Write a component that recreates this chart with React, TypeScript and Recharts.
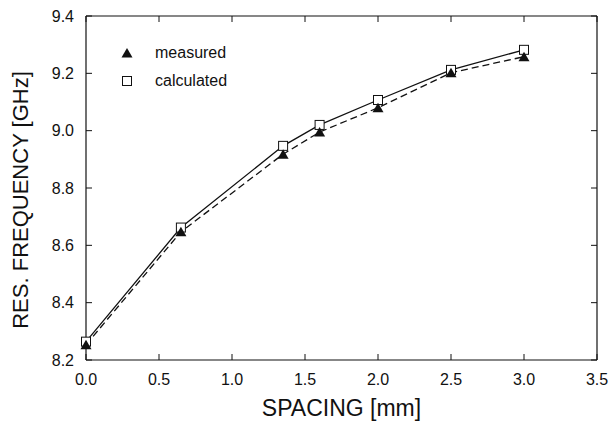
import React from "react";
import {
  ComposedChart,
  Line,
  XAxis,
  YAxis,
} from "recharts";

const spacing = [0, 0.65, 1.35, 1.6, 2.0, 2.5, 3.0];
const measured = [8.253, 8.647, 8.918, 8.995, 9.08, 9.202, 9.258];
const calculated = [8.264, 8.662, 8.947, 9.02, 9.107, 9.212, 9.282];

const xTicks = [0, 0.5, 1.0, 1.5, 2.0, 2.5, 3.0, 3.5];
const yTicks = [8.2, 8.4, 8.6, 8.8, 9.0, 9.2, 9.4];

const seriesNames = { measured: "measured", calculated: "calculated" };
const xTitle = "SPACING [mm]";
const yTitle = "RES. FREQUENCY [GHz]";

const FONT = "'Liberation Sans', Arial, Helvetica, sans-serif";
const INK = "#111";

const data = spacing.map((x, i) => ({
  x,
  measured: measured[i],
  calculated: calculated[i],
}));

// ticks point inwards on every side of the frame
const LeftTick = (p: any) => (
  <g>
    <line x1={p.x} x2={p.x + 6} y1={p.y} y2={p.y} stroke={INK} strokeWidth={1} />
    <text x={p.x - 12} y={p.y} dy="0.36em" textAnchor="end" fontSize={16} fontFamily={FONT} fill={INK}>
      {Number(p.payload.value).toFixed(1)}
    </text>
  </g>
);

const BottomTick = (p: any) => (
  <g>
    <line x1={p.x} x2={p.x} y1={p.y} y2={p.y - 6} stroke={INK} strokeWidth={1} />
    <text x={p.x} y={p.y + 25} textAnchor="middle" fontSize={16} fontFamily={FONT} fill={INK}>
      {Number(p.payload.value).toFixed(1)}
    </text>
  </g>
);

const TopTick = (p: any) => (
  <line x1={p.x} x2={p.x} y1={p.y} y2={p.y + 6} stroke={INK} strokeWidth={1} />
);

const RightTick = (p: any) => (
  <line x1={p.x} x2={p.x - 6} y1={p.y} y2={p.y} stroke={INK} strokeWidth={1} />
);

const Triangle = ({ cx, cy }: any) => (
  <path d={`M${cx},${cy - 5} L${cx + 5.5},${cy + 4.5} L${cx - 5.5},${cy + 4.5} Z`} fill={INK} />
);

const Square = ({ cx, cy }: any) => (
  <rect x={cx - 4.5} y={cy - 4.5} width={9} height={9} fill="#fff" stroke={INK} strokeWidth={1} />
);

const LegendBox = () => (
  <div
    style={{
      position: "absolute",
      left: 118,
      top: 39,
      fontFamily: FONT,
      fontSize: 16,
      color: INK,
      lineHeight: "28px",
    }}
  >
    <div style={{ display: "flex", alignItems: "center" }}>
      <svg width={37} height={12}>
        <path d="M9,1 L14.5,10.5 L3.5,10.5 Z" fill={INK} />
      </svg>
      <span>{seriesNames.measured}</span>
    </div>
    <div style={{ display: "flex", alignItems: "center" }}>
      <svg width={37} height={12}>
        <rect x={4.5} y={1.5} width={9} height={9} fill="#fff" stroke={INK} />
      </svg>
      <span>{seriesNames.calculated}</span>
    </div>
  </div>
);

export default function App() {
  return (
    <div
      style={{
        position: "fixed",
        left: 0,
        top: 0,
        width: 611,
        height: 425,
        overflow: "hidden",
        background: "#fff",
      }}
    >
      <ComposedChart
        width={611}
        height={425}
        data={data}
        margin={{ top: 15, right: 13, bottom: 0, left: 0 }}
      >
        <XAxis
          dataKey="x"
          type="number"
          domain={[0, 3.5]}
          ticks={xTicks}
          height={65}
          tickSize={0}
          tickMargin={0}
          tickLine={false}
          tick={<BottomTick />}
          axisLine={{ stroke: INK, strokeWidth: 1.2 }}
          interval={0}
        />
        <XAxis
          xAxisId="top"
          orientation="top"
          dataKey="x"
          type="number"
          domain={[0, 3.5]}
          ticks={xTicks}
          height={1}
          tickSize={0}
          tickMargin={0}
          tickLine={false}
          tick={<TopTick />}
          axisLine={{ stroke: INK, strokeWidth: 1.2 }}
          interval={0}
        />
        <YAxis
          type="number"
          domain={[8.2, 9.4]}
          ticks={yTicks}
          width={86}
          tickSize={0}
          tickMargin={0}
          tickLine={false}
          tick={<LeftTick />}
          axisLine={{ stroke: INK, strokeWidth: 1.2 }}
          interval={0}
        />
        <YAxis
          yAxisId="right"
          orientation="right"
          type="number"
          domain={[8.2, 9.4]}
          ticks={yTicks}
          width={1}
          tickSize={0}
          tickMargin={0}
          tickLine={false}
          tick={<RightTick />}
          axisLine={{ stroke: INK, strokeWidth: 1.2 }}
          interval={0}
        />
        {/* invisible series so the mirrored top/right frame axes get drawn */}
        <Line
          xAxisId="top"
          yAxisId="right"
          dataKey="calculated"
          stroke="none"
          dot={false}
          activeDot={false}
          legendType="none"
          isAnimationActive={false}
        />
        <Line
          type="linear"
          dataKey="calculated"
          name={seriesNames.calculated}
          stroke={INK}
          strokeWidth={1.3}
          dot={(p: any) => <Square key={`c-${p.index}`} cx={p.cx} cy={p.cy} />}
          activeDot={false}
          isAnimationActive={false}
        />
        <Line
          type="linear"
          dataKey="measured"
          name={seriesNames.measured}
          stroke={INK}
          strokeWidth={1.3}
          strokeDasharray="7 4"
          dot={(p: any) => <Triangle key={`m-${p.index}`} cx={p.cx} cy={p.cy} />}
          activeDot={false}
          isAnimationActive={false}
        />
      </ComposedChart>
      <LegendBox />
      <div
        style={{
          position: "absolute",
          left: 86,
          width: 511,
          top: 395,
          textAlign: "center",
          fontFamily: FONT,
          fontSize: 23,
          color: INK,
          lineHeight: "26px",
        }}
      >
        {xTitle}
      </div>
      <div
        style={{
          position: "absolute",
          left: 21,
          top: 200,
          transform: "translate(-50%, -50%) rotate(-90deg)",
          whiteSpace: "nowrap",
          fontFamily: FONT,
          fontSize: 22,
          color: INK,
          lineHeight: "26px",
        }}
      >
        {yTitle}
      </div>
    </div>
  );
}
